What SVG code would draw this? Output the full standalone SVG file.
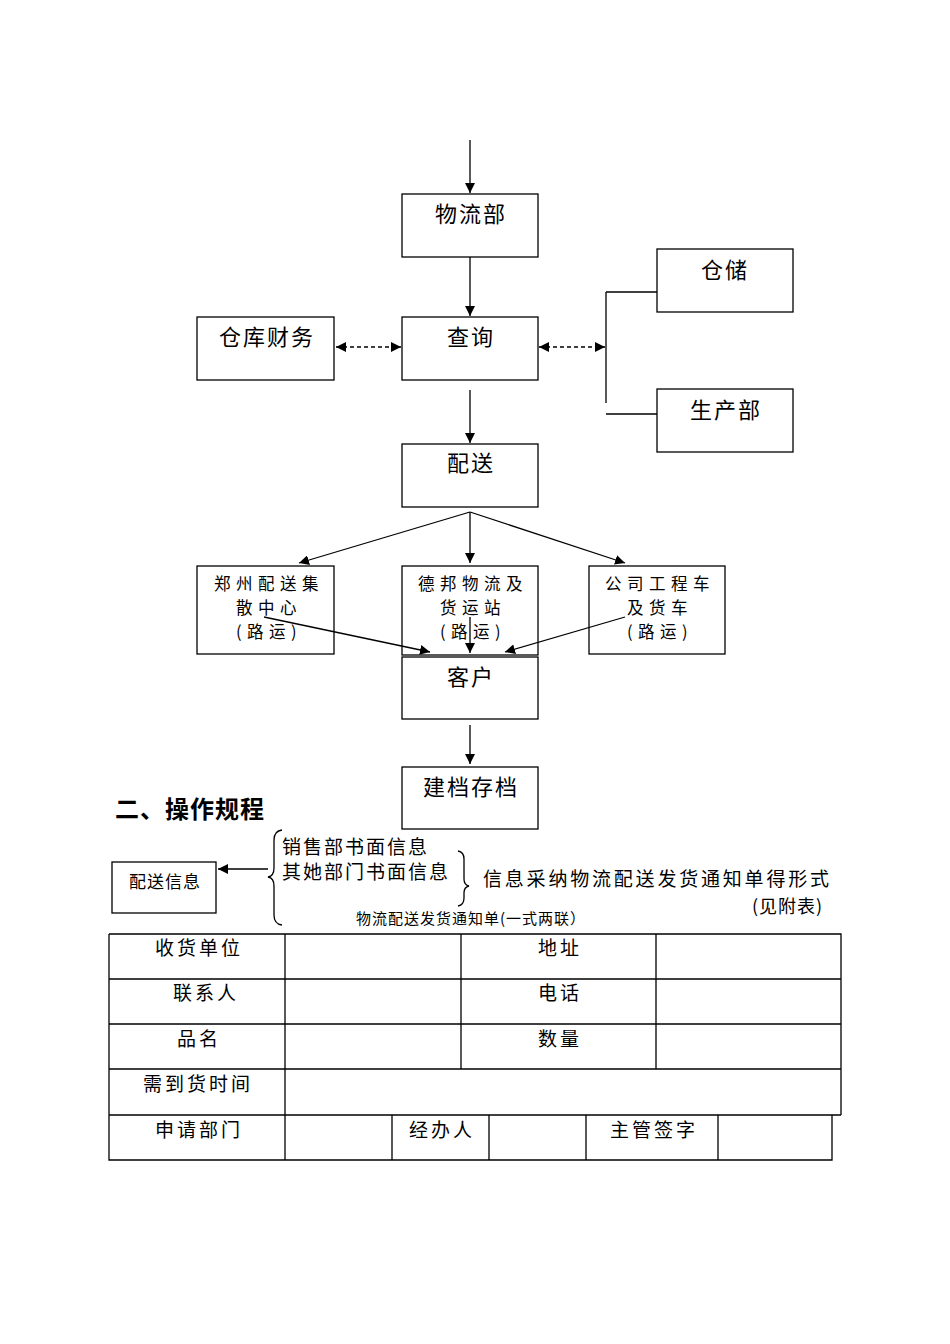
<svg xmlns="http://www.w3.org/2000/svg" width="950" height="1344" viewBox="0 0 950 1344">
<defs>
<marker id="ah" viewBox="0 0 10 10" refX="10" refY="5" markerWidth="10" markerHeight="10" markerUnits="userSpaceOnUse" orient="auto-start-reverse">
<path d="M0,0 L10,5 L0,10 z" fill="#000"/>
</marker>
<style>
.box{fill:#fff;stroke:#000;stroke-width:1.3}
.ln{fill:none;stroke:#000;stroke-width:1.3}
.dash{fill:none;stroke:#000;stroke-width:1.3;stroke-dasharray:4,3}
.t{font-family:"Noto Sans CJK SC","Liberation Sans",sans-serif;font-size:22px;fill:#000;text-anchor:middle;letter-spacing:2px}
.s{font-family:"Noto Sans CJK SC","Liberation Sans",sans-serif;font-size:16.5px;fill:#000;text-anchor:middle;letter-spacing:5.5px}
.tb{font-family:"Noto Sans CJK SC","Liberation Sans",sans-serif;font-size:19px;fill:#000;text-anchor:middle;letter-spacing:3px}
.l{font-family:"Noto Sans CJK SC","Liberation Sans",sans-serif;font-size:19px;fill:#000;letter-spacing:2px}
</style>
</defs>
<rect width="950" height="1344" fill="#fff"/>

<g id="n-wuliubu"><rect class="box" x="402" y="194" width="136" height="63"/><text class="t" x="471" y="222">物流部</text></g>
<g id="n-chaxun"><rect class="box" x="402" y="317" width="136" height="63"/><text class="t" x="471" y="345">查询</text></g>
<g id="n-cangku"><rect class="box" x="197" y="317" width="137" height="63"/><text class="t" x="267" y="345">仓库财务</text></g>
<g id="n-cangchu"><rect class="box" x="657" y="249" width="136" height="63"/><text class="t" x="725" y="278">仓储</text></g>
<g id="n-shengchan"><rect class="box" x="657" y="389" width="136" height="63"/><text class="t" x="726" y="418">生产部</text></g>
<g id="n-peisong"><rect class="box" x="402" y="444" width="136" height="63"/><text class="t" x="471" y="471">配送</text></g>
<g id="n-zhengzhou"><rect class="box" x="197" y="566" width="137" height="88"/>
<text class="s" x="269" y="590">郑州配送集</text><text class="s" x="269" y="614">散中心</text><text class="s" x="269" y="638">(路运)</text></g>
<g id="n-debang"><rect class="box" x="402" y="566" width="136" height="89"/>
<text class="s" x="473" y="590">德邦物流及</text><text class="s" x="473" y="614">货运站</text><text class="s" x="473" y="638">(路运)</text></g>
<g id="n-gongsi"><rect class="box" x="589" y="566" width="136" height="88"/>
<text class="s" x="660" y="590">公司工程车</text><text class="s" x="660" y="614">及货车</text><text class="s" x="660" y="638">(路运)</text></g>
<g id="n-kehu"><rect class="box" x="402" y="657" width="136" height="62"/><text class="t" x="471" y="685">客户</text></g>
<g id="n-jiandang"><rect class="box" x="402" y="767" width="136" height="62"/><text class="t" x="471" y="795">建档存档</text></g>

<g id="heading"><text x="115" y="818" style="font-family:'Noto Sans CJK SC','Liberation Sans',sans-serif;font-size:24px;font-weight:bold;letter-spacing:1px">二、操作规程</text></g>

<g id="info">
<text class="l" x="282" y="854">销售部书面信息</text>
<text class="l" x="282" y="879">其她部门书面信息</text>
<path class="ln" d="M282,830 Q274,831 274,840 L274,868 Q274,876 268,877 Q274,878 274,886 L274,915 Q274,924 282,925"/>
<path class="ln" d="M458,851 Q464,852 464,859 L464,879 Q464,885 469,886 Q464,887 464,893 L464,898 Q464,905 458,906"/>
<text class="l" x="483" y="886" style="letter-spacing:2.8px">信息采纳物流配送发货通知单得形式</text>
<text class="l" x="752" y="913" style="font-size:18px;letter-spacing:1px">(见附表)</text>
<text x="356" y="924" style="font-family:'Noto Sans CJK SC','Liberation Sans',sans-serif;font-size:15px;letter-spacing:1px">物流配送发货通知单(一式两联）</text>
</g>

<g id="n-peisongxinxi"><rect class="box" x="112" y="862" width="104" height="51"/>
<text x="165" y="888" style="font-family:'Noto Sans CJK SC','Liberation Sans',sans-serif;font-size:17px;text-anchor:middle;letter-spacing:1px">配送信息</text></g>

<g id="table">
<path class="ln" d="M109,934 H841 V1115 M109,979 H841 M109,1024 H841 M109,1069 H841 M109,1115 H841 M109,934 V1160 H832 V1115 M285,934 V1160 M461,934 V1069 M656,934 V1069 M392,1115 V1160 M489,1115 V1160 M586,1115 V1160 M718,1115 V1160"/>
<text class="tb" x="199" y="955">收货单位</text>
<text class="tb" x="560" y="955">地址</text>
<text class="tb" x="206" y="1000">联系人</text>
<text class="tb" x="560" y="1000">电话</text>
<text class="tb" x="199" y="1046">品名</text>
<text class="tb" x="560" y="1046">数量</text>
<text class="tb" x="198" y="1091">需到货时间</text>
<text class="tb" x="199" y="1137">申请部门</text>
<text class="tb" x="442" y="1137">经办人</text>
<text class="tb" x="654" y="1137">主管签字</text>
</g>

<g id="connectors">
<line class="ln" x1="470" y1="140" x2="470" y2="193" marker-end="url(#ah)"/>
<line class="ln" x1="470" y1="257" x2="470" y2="316" marker-end="url(#ah)"/>
<line class="dash" x1="336" y1="347" x2="401" y2="347" marker-start="url(#ah)" marker-end="url(#ah)"/>
<line class="dash" x1="539" y1="347" x2="605" y2="347" marker-start="url(#ah)" marker-end="url(#ah)"/>
<line class="ln" x1="606" y1="292" x2="606" y2="403"/>
<line class="ln" x1="606" y1="292" x2="657" y2="292"/>
<line class="ln" x1="606" y1="414" x2="657" y2="414"/>
<line class="ln" x1="470" y1="390" x2="470" y2="443" marker-end="url(#ah)"/>
<line class="ln" x1="470" y1="512" x2="299" y2="563" marker-end="url(#ah)"/>
<line class="ln" x1="470" y1="512" x2="470" y2="563" marker-end="url(#ah)"/>
<line class="ln" x1="470" y1="512" x2="625" y2="563" marker-end="url(#ah)"/>
<line class="ln" x1="264" y1="617" x2="430" y2="652" marker-end="url(#ah)"/>
<line class="ln" x1="470" y1="617" x2="470" y2="653" marker-end="url(#ah)"/>
<line class="ln" x1="625" y1="617" x2="505" y2="652" marker-end="url(#ah)"/>
<line class="ln" x1="470" y1="725" x2="470" y2="764" marker-end="url(#ah)"/>
<line class="ln" x1="268" y1="869" x2="218" y2="869" marker-end="url(#ah)"/>
</g>
</svg>
